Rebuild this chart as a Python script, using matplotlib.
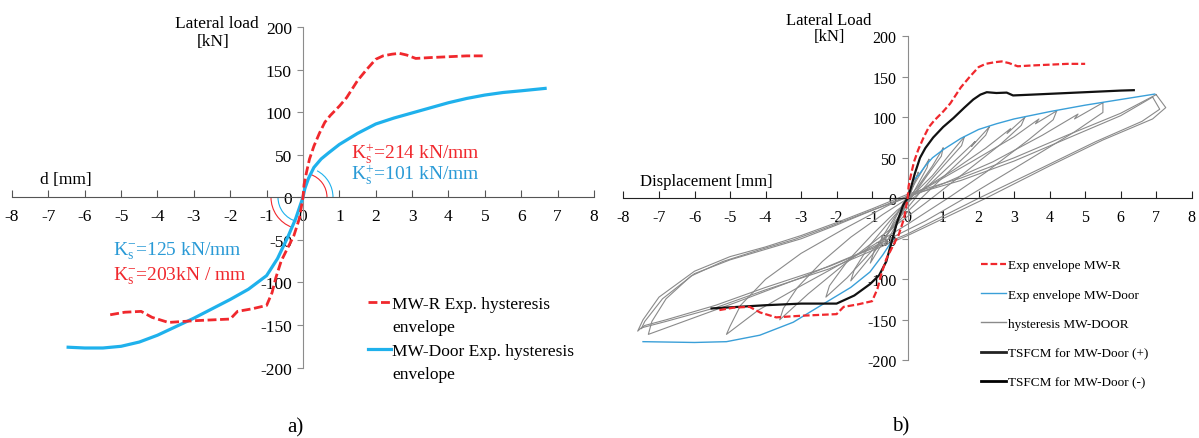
import numpy as np
import matplotlib
matplotlib.use('Agg')
import matplotlib.pyplot as plt
from matplotlib.patches import Arc
from matplotlib.lines import Line2D

plt.rcParams['font.family'] = ['Liberation Serif', 'DejaVu Serif']
plt.rcParams['mathtext.fontset'] = 'custom'
plt.rcParams['mathtext.rm'] = 'Liberation Serif'
plt.rcParams['mathtext.it'] = 'Liberation Serif:italic'
plt.rcParams['axes.unicode_minus'] = False

# ---- data ----
# MW-R experimental envelope (both panels)
mwr_x = [-5.3, -4.9, -4.45, -4.15, -3.7, -3.0, -2.5, -2.0, -1.8, -1.4, -1.0, -0.85, -0.75,
         -0.6, -0.45, -0.25, -0.1, 0, 0.03, 0.1, 0.18, 0.3, 0.45, 0.6, 0.75, 1.0, 1.2, 1.5,
         1.75, 2.0, 2.2, 2.45, 2.65, 2.85, 3.1, 3.5, 4.0, 4.5, 5.0]
mwr_y = [-138, -135, -134, -141, -147, -145, -144, -143, -134, -131, -127, -112, -95,
         -75, -62, -45, -25, 0, 15, 30, 45, 60, 75, 88, 96, 107, 117, 137,
         150, 162, 166, 168, 169, 167, 163, 164, 165, 166, 166]

# MW-Door experimental envelope, panel a
door_x = [-6.5, -6.0, -5.5, -5.0, -4.5, -4.0, -3.5, -3.0, -2.5, -2.0, -1.5, -1.0, -0.7,
          -0.4, -0.2, 0, 0.05, 0.15, 0.3, 0.5, 0.7, 1.0, 1.5, 2.0, 2.5, 3.0, 3.5, 4.0,
          4.5, 5.0, 5.5, 6.0, 6.7]
door_y = [-176, -177, -177, -175, -170, -162, -152, -142, -131, -120, -108, -92, -72,
          -45, -25, 0, 10, 22, 35, 45, 52, 62, 75, 86, 93, 99, 105, 111,
          116, 120, 123, 125, 128]

# MW-Door envelope, panel b (two branches)
envp_x = [0.15, 0.3, 0.5, 0.7, 1.0, 1.5, 2.0, 2.5, 3.0, 4.0, 5.0, 6.0, 6.96]
envp_y = [22, 28, 40, 50, 60, 74, 85, 92, 98, 107, 115, 122, 128.7]
envn_x = [-0.4, -0.7, -1.06, -1.6, -2.28, -3.22, -4.16, -5.1, -6.0, -7.45]
envn_y = [-50, -70, -91, -110, -128, -153, -169, -177, -178, -177]

# TSFCM model curves
tsp_x = [0, 0.1, 0.2, 0.35, 0.5, 0.72, 1.0, 1.29, 1.6, 1.85, 2.05, 2.23, 2.5, 2.79,
         2.97, 3.5, 4.0, 5.0, 6.0, 6.37]
tsp_y = [0, 14, 30, 50, 62, 75, 88, 99, 112, 122, 128, 131, 130, 130.5,
         127, 128, 129, 131, 133, 133.5]
tsn_x = [0, -0.12, -0.3, -0.45, -0.6, -0.8, -1.06, -1.5, -2.0, -3.0, -4.0, -5.52]
tsn_y = [0, -8, -30, -54, -78, -95, -106, -120, -130, -130, -132, -136]

# hysteresis loops MW-DOOR
hyst_x = [
    [0.3, 0.25, 0.1, -0.1, -0.3, -0.35, -0.28, -0.1, 0.1, 0.3],
    [0.6, 0.55, 0.25, 0, -0.35, -0.65, -0.6, -0.35, -0.05, 0.25, 0.6],
    [1.0, 0.95, 0.55, 0.1, -0.4, -0.8, -1.05, -0.95, -0.6, -0.2, 0.3, 0.7, 1.0],
    [1.6, 1.52, 1.05, 0.4, -0.3, -1.0, -1.6, -1.5, -1.1, -0.5, 0.1, 0.7, 1.2, 1.6],
    [2.3, 2.2, 1.7, 0.9, 0.1, -0.8, -1.7, -2.3, -2.2, -1.7, -1.0, -0.3, 0.5, 1.3, 1.9, 1.8, 2.3],
    [3.3, 3.2, 2.6, 1.5, 0.5, -0.6, -1.8, -2.8, -3.6, -3.5, -3.1, -2.4, -1.6, -0.7, 0.3,
     1.3, 2.2, 2.9, 2.8, 3.3],
    [4.2, 4.1, 3.4, 2.2, 1.2, 0, -1.5, -3.0, -4.2, -5.1, -5.0, -4.7, -4.0, -3.0, -1.8,
     -0.6, 0.6, 1.8, 3.0, 3.7, 3.6, 4.2],
    [5.5, 5.5, 4.7, 3.2, 1.8, 0.5, -1.2, -3.0, -4.8, -6.3, -7.3, -7.2, -6.8, -6.1, -5.2,
     -4.2, -3.2, -2.2, -1.2, -0.2, 1.0, 2.4, 3.8, 4.8, 4.7, 5.5],
    [7.0, 7.27, 6.9, 5.5, 4.0, 2.2, 0, -2.2, -4.0, -5.4, -6.8, -7.5, -7.6, -7.45, -7.0,
     -6.0, -5.0, -4.0, -3.0, -2.0, -1.0, 0, 1.5, 3.0, 4.5, 6.0, 7.0],
    [6.9, 7.1, 6.6, 5.3, 3.8, 2.0, 0, -2.2, -4.0, -5.4, -6.8, -7.4, -7.5, -7.4, -6.9,
     -6.0, -5.0, -4.0, -3.0, -2.0, -1.0, 0, 1.5, 3.0, 4.5, 6.0, 6.9],
]
hyst_y = [
    [32, 25, 8, -12, -32, -38, -30, -12, 10, 32],
    [48, 38, 14, -6, -35, -58, -48, -25, 0, 22, 48],
    [62, 52, 28, 0, -32, -62, -80, -66, -40, -12, 15, 40, 62],
    [76, 65, 42, 10, -28, -70, -102, -88, -60, -28, 2, 28, 55, 76],
    [88, 78, 55, 22, -12, -55, -98, -122, -108, -78, -45, -15, 12, 45, 70, 64, 88],
    [100, 90, 66, 28, -6, -42, -82, -118, -150, -136, -110, -78, -48, -20, 8,
     35, 62, 86, 80, 100],
    [108, 97, 72, 32, 2, -32, -72, -108, -138, -168, -158, -132, -100, -68, -38,
     -10, 15, 45, 76, 98, 92, 108],
    [118, 106, 82, 42, 5, -28, -65, -98, -128, -152, -168, -152, -124, -96, -78,
     -64, -51, -35, -18, -2, 18, 45, 78, 104, 98, 118],
    [128, 112, 98, 72, 40, 0, -46, -87, -113, -135, -152, -160, -164, -150, -122,
     -90, -72, -60, -46, -30, -13, 5, 25, 50, 78, 105, 128],
    [125, 110, 95, 70, 38, 0, -44, -84, -110, -132, -150, -157, -161, -152, -124,
     -93, -76, -63, -50, -33, -15, 3, 22, 46, 74, 102, 125],
]

# stiffness angle arcs: radius in pixels, start / end angle in screen degrees
arc_r = [24, 30, 32, 25]
arc_t1 = [0, 0, 180, 180]
arc_t2 = [72, 62, 250, 255]

xticks = np.arange(-8, 9, 1)
yticks = np.arange(-200, 201, 50)

RED = '#f0282d'
BLUE_A = '#1fb1ec'
BLUE_K = '#2a9ad6'
BLUE_B = '#3a9fd8'
GRAY = '#8a8a8a'


def setup_axes(ax, tick_size, axis_color):
    ax.set_xlim(-8, 8)
    ax.set_ylim(-200, 200)
    for s in ['top', 'right']:
        ax.spines[s].set_visible(False)
    ax.spines['left'].set_position(('data', 0))
    ax.spines['bottom'].set_position(('data', 0))
    ax.spines['left'].set_color('#8c8c8c')
    ax.spines['bottom'].set_color(axis_color)
    ax.set_xticks(xticks)
    ax.set_yticks(yticks)
    ax.tick_params(axis='x', direction='in', length=5, color=axis_color,
                   labelsize=tick_size, pad=8)
    ax.tick_params(axis='y', direction='out', length=4, color='#8c8c8c',
                   labelsize=tick_size, pad=4)
    ax.patch.set_visible(False)


fig = plt.figure(figsize=(11.99, 4.39), dpi=100)

# ---------------- panel a ----------------
ax1 = fig.add_axes([0.010, 0.1604, 0.4854, 0.776])
setup_axes(ax1, 12.5, '#555555')
ax1.plot(door_x, door_y, color=BLUE_A, lw=2.3, solid_capstyle='butt', zorder=3)
ax1.plot(mwr_x, mwr_y, color=RED, lw=2.0, dashes=(3.2, 1.3), zorder=4)

# data units per pixel, to keep the arcs round on screen
bb = ax1.get_position()
ux = 16 / (bb.width * fig.get_figwidth() * fig.dpi)
uy = 400 / (bb.height * fig.get_figheight() * fig.dpi)
for r, t1, t2, c in zip(arc_r, arc_t1, arc_t2, [RED, BLUE_A, RED, BLUE_A]):
    w, h = 2 * r * ux, 2 * r * uy
    d1 = np.degrees(np.arctan2(h * np.sin(np.radians(t1)), w * np.cos(np.radians(t1))))
    d2 = np.degrees(np.arctan2(h * np.sin(np.radians(t2)), w * np.cos(np.radians(t2))))
    if d2 < d1:
        d2 += 360
    ax1.add_patch(Arc((0, 0), w, h, theta1=d1, theta2=d2, color=c, lw=0.8, zorder=2))

ax1.text(-2.38, 205, 'Lateral load', fontsize=12.5, ha='center', va='center')
ax1.text(-2.48, 184, '[kN]', fontsize=12.5, ha='center', va='center')
ax1.text(-7.23, 22, 'd [mm]', fontsize=12.5, ha='left', va='center')
ax1.text(1.33, 52, r'$\mathrm{K}^{+}_{\mathrm{s}}$=214 kN/mm', fontsize=14,
         color=RED, ha='left', va='center')
ax1.text(1.33, 27, r'$\mathrm{K}^{+}_{\mathrm{s}}$=101 kN/mm', fontsize=14,
         color=BLUE_K, ha='left', va='center')
ax1.text(-5.22, -62, r'$\mathrm{K}^{-}_{\mathrm{s}}$=125 kN/mm', fontsize=14,
         color=BLUE_K, ha='left', va='center')
ax1.text(-5.22, -92, r'$\mathrm{K}^{-}_{\mathrm{s}}$=203kN / mm', fontsize=14,
         color=RED, ha='left', va='center')

blank = Line2D([], [], color='none')
h_red = Line2D([], [], color=RED, lw=2.0, dashes=(3.2, 1.3))
h_blue = Line2D([], [], color=BLUE_A, lw=2.3)
ax1.legend([h_red, blank, h_blue, blank],
           ['MW-R Exp. hysteresis', 'envelope', 'MW-Door Exp. hysteresis', 'envelope'],
           loc='upper left', bbox_to_anchor=(0.612, 0.21), frameon=False,
           fontsize=12.5, borderpad=0, borderaxespad=0, handlelength=1.3,
           handletextpad=0.1, labelspacing=0.41)

# ---------------- panel b ----------------
ax2 = fig.add_axes([0.520, 0.177, 0.4739, 0.738])
setup_axes(ax2, 11.5, '#222222')
for hx, hy in zip(hyst_x, hyst_y):
    ax2.plot(hx, hy, color=GRAY, lw=0.8, zorder=2)
ax2.plot(envp_x, envp_y, color=BLUE_B, lw=1.0, zorder=3)
ax2.plot(envn_x, envn_y, color=BLUE_B, lw=1.0, zorder=3)
ax2.plot(tsp_x, tsp_y, color='#111111', lw=1.6, zorder=4)
ax2.plot(tsn_x, tsn_y, color='#111111', lw=1.6, zorder=4)
ax2.plot(mwr_x, mwr_y, color=RED, lw=1.6, dashes=(3, 1.3), zorder=5)

ax2.text(-2.23, 220, 'Lateral Load', fontsize=12, ha='center', va='center')
ax2.text(-2.2, 200, '[kN]', fontsize=12, ha='center', va='center')
ax2.text(-7.54, 21, 'Displacement [mm]', fontsize=12, ha='left', va='center')

hb = [Line2D([], [], color=RED, lw=1.6, dashes=(3, 1.3)),
      Line2D([], [], color=BLUE_B, lw=1.0),
      Line2D([], [], color=GRAY, lw=1.0),
      Line2D([], [], color='#222222', lw=2.0),
      Line2D([], [], color='#000000', lw=2.0)]
ax2.legend(hb, ['Exp envelope MW-R', 'Exp envelope MW-Door', 'hysteresis MW-DOOR',
                'TSFCM for MW-Door (+)', 'TSFCM for MW-Door (-)'],
           loc='upper left', bbox_to_anchor=(0.629, 0.313), frameon=False,
           fontsize=9.5, borderpad=0, borderaxespad=0, handlelength=1.9,
           handletextpad=0.12, labelspacing=1.3)

fig.text(0.246, 0.025, 'a)', fontsize=15, ha='center', va='center')
fig.text(0.7515, 0.027, 'b)', fontsize=15, ha='center', va='center')

fig.savefig('out.png', dpi=100)
